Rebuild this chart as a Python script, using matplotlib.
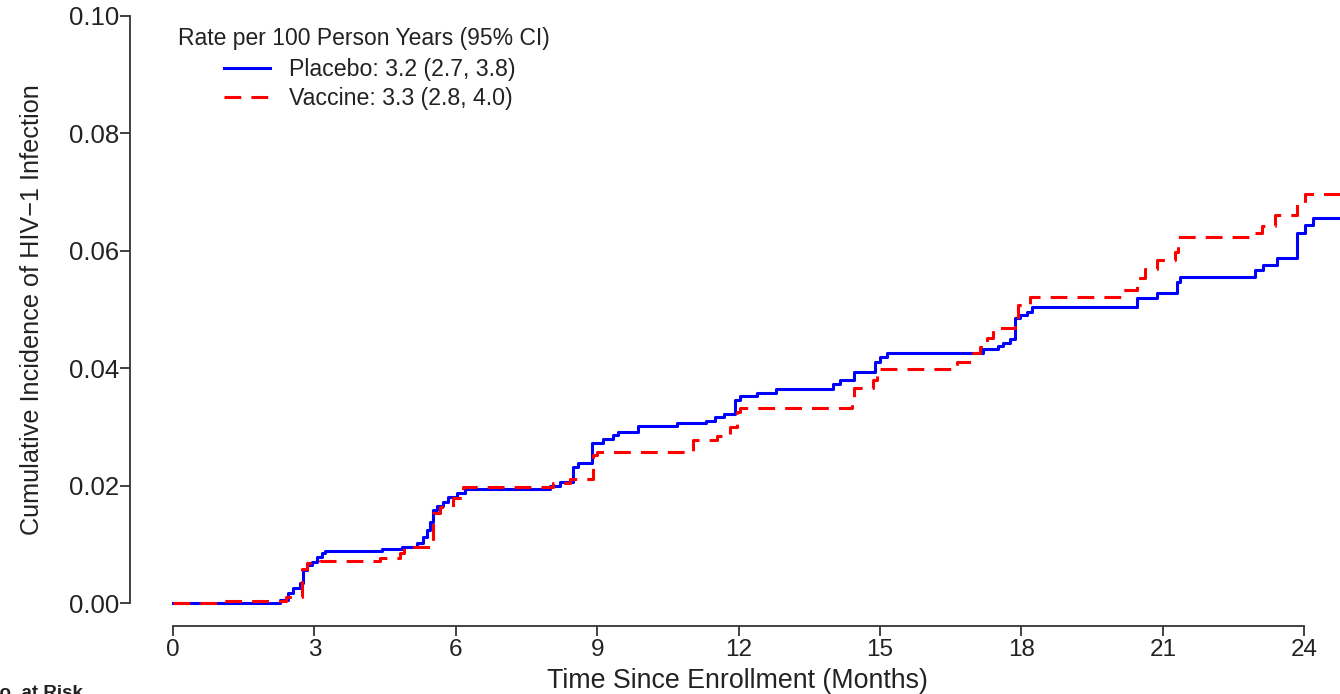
import numpy as np
import matplotlib.pyplot as plt

plt.rcParams['font.family'] = ['Liberation Sans', 'DejaVu Sans']

# Kaplan-Meier style cumulative incidence (month, value after step)
placebo_t = [0, 2.27, 2.44, 2.55, 2.70, 2.76, 2.84, 2.94, 3.05, 3.16, 3.23, 4.43, 4.86,
             5.18, 5.30, 5.39, 5.45, 5.52, 5.60, 5.73, 5.84, 6.03, 6.20, 8.00, 8.21,
             8.49, 8.60, 8.89, 9.12, 9.34, 9.44, 9.87, 10.70, 11.30, 11.50, 11.70,
             11.93, 12.03, 12.40, 12.80, 14.00, 14.15, 14.45, 14.90, 15.00, 15.15,
             17.19, 17.50, 17.60, 17.76, 17.87, 17.97, 18.12, 18.23, 20.45, 20.88,
             21.30, 21.37, 22.96, 23.13, 23.43, 23.85, 24.02, 24.19, 24.76]
placebo_y = [0, 0.0005, 0.0017, 0.0025, 0.0034, 0.0056, 0.0065, 0.0070, 0.0078, 0.0085,
             0.0088, 0.0092, 0.0095, 0.0102, 0.0112, 0.0124, 0.0138, 0.0158, 0.0165,
             0.0172, 0.0180, 0.0187, 0.0194, 0.0200, 0.0206, 0.0232, 0.0238, 0.0273,
             0.0280, 0.0286, 0.0291, 0.0302, 0.0307, 0.0310, 0.0317, 0.0322, 0.0346,
             0.0353, 0.0358, 0.0364, 0.0373, 0.0380, 0.0394, 0.0410, 0.0419, 0.0426,
             0.0433, 0.0438, 0.0443, 0.0450, 0.0486, 0.0490, 0.0496, 0.0504, 0.0520,
             0.0528, 0.0547, 0.0555, 0.0567, 0.0576, 0.0588, 0.0630, 0.0644, 0.0656,
             0.0656]

vaccine_t = [0, 1.04, 2.40, 2.74, 2.84, 3.12, 4.40, 4.82, 4.90, 5.52, 5.67, 5.95, 6.15,
             8.06, 8.42, 8.92, 9.00, 11.03, 11.54, 11.82, 11.97, 12.03, 14.40, 14.44,
             14.85, 14.94, 16.64, 16.98, 17.12, 17.27, 17.40, 17.87, 17.92, 18.19,
             20.16, 20.45, 20.63, 20.88, 21.26, 21.33, 22.90, 23.10, 23.38, 23.85,
             24.02, 24.76]
vaccine_y = [0, 0.0003, 0.0010, 0.0058, 0.0068, 0.0072, 0.0077, 0.0085, 0.0095, 0.0153,
             0.0164, 0.0179, 0.0197, 0.0204, 0.0211, 0.0252, 0.0258, 0.0278, 0.0285,
             0.0300, 0.0325, 0.0332, 0.0339, 0.0366, 0.0380, 0.0399, 0.0410, 0.0426,
             0.0436, 0.0451, 0.0468, 0.0487, 0.0508, 0.0521, 0.0533, 0.0554, 0.0569,
             0.0584, 0.0598, 0.0624, 0.0630, 0.0642, 0.0661, 0.0681, 0.0697, 0.0697]

labels = ['Placebo: 3.2 (2.7, 3.8)', 'Vaccine: 3.3 (2.8, 4.0)']
x_ticks = [0, 3, 6, 9, 12, 15, 18, 21, 24]
y_ticks = [0.00, 0.02, 0.04, 0.06, 0.08, 0.10]

W, H = 1340, 694
fig = plt.figure(figsize=(W / 100, H / 100), dpi=100)
ax = fig.add_axes([130 / W, 1 - 626 / H, 1 - 130 / W, (626 - 10) / H])

ax.step(placebo_t, placebo_y, where='post', color='#0000FF', lw=2.2, label=labels[0])
ax.step(vaccine_t, vaccine_y, where='post', color='#FF0000', lw=2.2,
        linestyle=(0, (5.5, 3.3)), label=labels[1])

ax.set_xlim(-0.912, 24.76)
ax.set_ylim(-0.0039, 0.10102)

# R-style axes: spines only across the tick range
for s in ['top', 'right']:
    ax.spines[s].set_visible(False)
ax.spines['left'].set_bounds(0, 0.10)
ax.spines['bottom'].set_bounds(0, 24)
for s in ['left', 'bottom']:
    ax.spines[s].set_color('#333333')
    ax.spines[s].set_linewidth(1.3)

ax.set_xticks(x_ticks)
ax.set_yticks(y_ticks)
ax.set_yticklabels(['%.2f' % v for v in y_ticks])
ax.tick_params(axis='both', direction='out', length=7, width=1.3, color='#333333',
               labelcolor='#222222')
ax.tick_params(axis='y', pad=1, labelsize=18.5)
ax.tick_params(axis='x', pad=2, labelsize=17.5)

fig.text(737 / W, 1 - 681 / H, 'Time Since Enrollment (Months)', ha='center', va='center',
         fontsize=19.3, color='#222222')
fig.text(32 / W, 1 - 310 / H, 'Cumulative Incidence of HIV\u22121 Infection', ha='center',
         va='center', rotation=90, fontsize=18.2, color='#222222')

fig.text(178 / W, 1 - 38 / H, 'Rate per 100 Person Years (95% CI)', ha='left', va='center',
         fontsize=16.5, color='#222222')
leg = ax.legend(loc='upper left', bbox_to_anchor=(224 / W, 1 - 58 / H),
                bbox_transform=fig.transFigure, frameon=False, fontsize=16.7,
                handlelength=2.0, handletextpad=0.8, borderpad=0, borderaxespad=0,
                labelspacing=0.28)
for t in leg.get_texts():
    t.set_color('#222222')

fig.text(-14 / W, -4 / H, 'No. at Risk', ha='left', va='baseline', fontsize=13.5,
         fontweight='bold', color='#222222')

fig.savefig('out.png', dpi=100)
